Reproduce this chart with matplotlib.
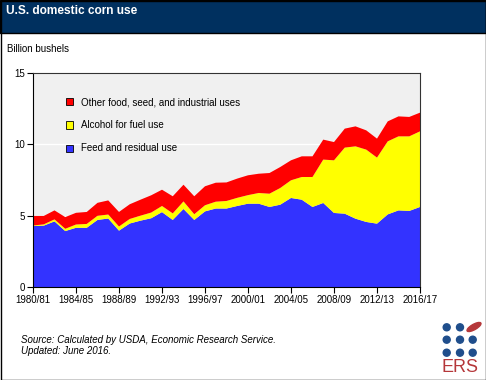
import numpy as np
import matplotlib
matplotlib.use("Agg")
import matplotlib.pyplot as plt
from matplotlib.patches import Patch, Rectangle, Ellipse

plt.rcParams['font.family'] = ['Liberation Sans', 'DejaVu Sans']

# Marketing years 1980/81 .. 2016/17
seasons = [f"{y}/{str(y + 1)[-2:]}" for y in range(1980, 2017)]

# Billion bushels
feed = [4.27, 4.30, 4.60, 3.92, 4.15, 4.15, 4.70, 4.80, 3.95, 4.45,
        4.65, 4.82, 5.25, 4.70, 5.47, 4.70, 5.30, 5.50, 5.50, 5.68,
        5.84, 5.84, 5.61, 5.77, 6.24, 6.12, 5.61, 5.89, 5.19, 5.14,
        4.79, 4.56, 4.44, 5.09, 5.37, 5.33, 5.61]
fuel = [0.04, 0.09, 0.14, 0.16, 0.23, 0.27, 0.29, 0.28, 0.29, 0.32,
        0.35, 0.40, 0.43, 0.46, 0.53, 0.40, 0.43, 0.48, 0.53, 0.57,
        0.60, 0.75, 0.93, 1.17, 1.24, 1.59, 2.10, 3.04, 3.69, 4.63,
        5.07, 5.07, 4.63, 5.12, 5.19, 5.23, 5.30]
other = [0.67, 0.59, 0.63, 0.82, 0.82, 0.84, 0.91, 0.99, 1.02, 1.03,
         1.12, 1.21, 1.14, 1.20, 1.17, 1.26, 1.33, 1.33, 1.30, 1.35,
         1.39, 1.35, 1.45, 1.47, 1.40, 1.45, 1.45, 1.40, 1.28, 1.33,
         1.40, 1.35, 1.33, 1.40, 1.40, 1.36, 1.31]

labels = ['Feed and residual use', 'Alcohol for fuel use',
          'Other food, seed, and industrial uses']
colors = ['#3333FF', '#FFFF00', '#FF0000']

W, H = 486, 380
fig = plt.figure(figsize=(W / 100, H / 100), dpi=100)
fig.patch.set_facecolor('white')

# title bar
fig.patches.append(Rectangle((0, 1 - 33 / H), 1, 33 / H, transform=fig.transFigure,
                             facecolor='#00305F', edgecolor='black', linewidth=1))
fig.text(6 / W, 1 - 11 / H, 'U.S. domestic corn use', color='white',
         fontsize=8.6, fontweight='bold', va='center', ha='left')
fig.text(7 / W, 1 - 49 / H, 'Billion bushels', fontsize=7, va='center', ha='left')

ax = fig.add_axes([33 / W, 1 - 287 / H, 387 / W, 214 / H])
x = np.arange(len(seasons))
ax.stackplot(x, feed, fuel, other, colors=colors, linewidth=0)
ax.set_facecolor('#F0F0F0')
ax.set_xlim(0, len(seasons) - 1)
ax.set_ylim(0, 15)
ax.set_yticks([0, 5, 10, 15])
ax.set_xticks(x[::4])
ax.set_xticklabels(seasons[::4])
ax.tick_params(labelsize=7, length=4, width=0.8, color='black', pad=2)
ax.yaxis.grid(True, color='white', linewidth=1)
ax.set_axisbelow(True)
for s in ax.spines.values():
    s.set_color('#333333')
    s.set_linewidth(0.8)
ax.spines['left'].set_color('black')
ax.spines['bottom'].set_color('black')

handles = [Patch(facecolor=c, edgecolor='black', linewidth=0.6) for c in colors[::-1]]
ax.legend(handles, labels[::-1], loc='upper left', bbox_to_anchor=(0.075, 0.905),
          frameon=False, fontsize=7, handlelength=0.75, handleheight=0.75,
          handletextpad=0.8, labelspacing=1.35, borderaxespad=0)

fig.text(21 / W, 1 - 340 / H, 'Source: Calculated by USDA, Economic Research Service.',
         fontsize=7, style='italic', va='center', ha='left')
fig.text(21 / W, 1 - 351 / H, 'Updated: June 2016.',
         fontsize=7, style='italic', va='center', ha='left')

# ERS logo
dot_x = [446.7, 460, 472.7]
dot_y = [327.3, 339.7, 352.7]
for j, dy in enumerate(dot_y):
    for i, dx in enumerate(dot_x):
        if i == 2 and j == 0:
            continue
        fig.patches.append(Ellipse((dx / W, 1 - dy / H), 7 / W, 7 / H,
                                   transform=fig.transFigure, color='#1F4E8C'))
fig.patches.append(Ellipse((474 / W, 1 - 327 / H), 17 / W, 5 / H, angle=38,
                           transform=fig.transFigure, color='#B5373A'))
fig.text(459.5 / W, 1 - 368 / H, 'ERS', color='#B5373A', fontsize=13,
         va='center', ha='center')

# outer border
fig.patches.append(Rectangle((0.5 / W, 0.5 / H), 1 - 1 / W, 1 - 1 / H, transform=fig.transFigure,
                             fill=False, edgecolor='black', linewidth=1))

fig.savefig('out.png', dpi=100)
